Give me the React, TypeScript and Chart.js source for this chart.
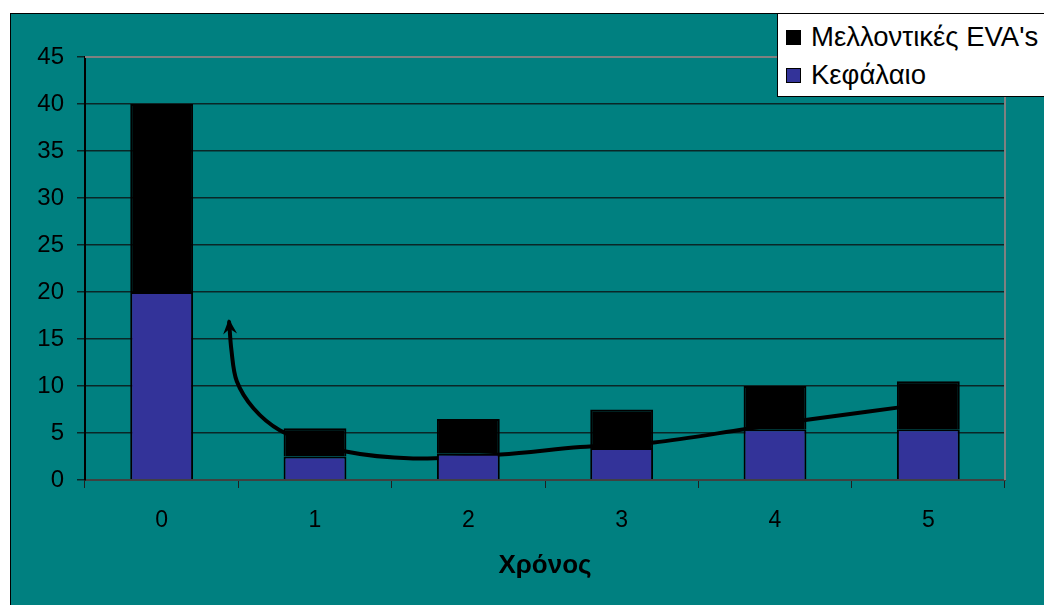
import React, { useEffect, useRef } from "react";
import { Chart, registerables } from "chart.js";

Chart.register(...registerables);

const categories = ["0", "1", "2", "3", "4", "5"];
const capitalValues = [20, 2.5, 2.8, 3.4, 5.4, 5.4];
const futureEvaValues = [20, 3, 3.7, 4.1, 4.6, 5.1];
const capitalLabel = "Κεφάλαιο";
const futureEvaLabel = "Μελλοντικές EVA's";
const xTitle = "Χρόνος";
const yTicks = [0, 5, 10, 15, 20, 25, 30, 35, 40, 45];

// Annotation curve (in data coordinates: category index, value)
const curveX = [4.8, 4.21, 3.8, 3.21, 2.73, 2.21, 1.64, 1.21, 0.77, 0.6, 0.49, 0.455, 0.44];
const curveY = [7.7, 6.4, 5.4, 4.0, 3.5, 2.7, 2.3, 3.0, 5.3, 7.6, 10.5, 13.8, 16.8];

const TEAL = "#008080";
const BLUE = "#333399";
const FONT = "'Liberation Sans', Arial, sans-serif";

type P = { x: number; y: number };
function dist(a: P, b: P) {
  return Math.hypot(a.x - b.x, a.y - b.y);
}

const curvePlugin = {
  id: "curveAnnotation",
  beforeDatasetsDraw(chart: any) {
    const { ctx, scales, chartArea } = chart;
    const xs = scales.x;
    const ys = scales.y;
    const pts: P[] = curveX.map((v, i) => ({ x: xs.getPixelForValue(v), y: ys.getPixelForValue(curveY[i]) }));
    ctx.save();
    // plot border (top & right, gray)
    ctx.strokeStyle = "#808080";
    ctx.lineWidth = 2;
    ctx.beginPath();
    ctx.moveTo(chartArea.left, chartArea.top);
    ctx.lineTo(chartArea.right, chartArea.top);
    ctx.lineTo(chartArea.right, chartArea.bottom);
    ctx.stroke();

    // centripetal Catmull-Rom curve
    ctx.strokeStyle = "#000";
    ctx.lineWidth = 4;
    ctx.lineCap = "round";
    ctx.lineJoin = "round";
    ctx.beginPath();
    ctx.moveTo(pts[0].x, pts[0].y);
    const n = pts.length;
    for (let i = 0; i < n - 1; i++) {
      const p1 = pts[i];
      const p2 = pts[i + 1];
      const p0 = i > 0 ? pts[i - 1] : { x: 2 * p1.x - p2.x, y: 2 * p1.y - p2.y };
      const p3 = i + 2 < n ? pts[i + 2] : { x: 2 * p2.x - p1.x, y: 2 * p2.y - p1.y };
      const d1 = Math.sqrt(dist(p0, p1));
      const d2 = Math.sqrt(dist(p1, p2));
      const d3 = Math.sqrt(dist(p2, p3));
      const c1 = {
        x: (d1 * d1 * p2.x - d2 * d2 * p0.x + (2 * d1 * d1 + 3 * d1 * d2 + d2 * d2) * p1.x) / (3 * d1 * (d1 + d2)),
        y: (d1 * d1 * p2.y - d2 * d2 * p0.y + (2 * d1 * d1 + 3 * d1 * d2 + d2 * d2) * p1.y) / (3 * d1 * (d1 + d2)),
      };
      const c2 = {
        x: (d3 * d3 * p1.x - d2 * d2 * p3.x + (2 * d3 * d3 + 3 * d3 * d2 + d2 * d2) * p2.x) / (3 * d3 * (d3 + d2)),
        y: (d3 * d3 * p1.y - d2 * d2 * p3.y + (2 * d3 * d3 + 3 * d3 * d2 + d2 * d2) * p2.y) / (3 * d3 * (d3 + d2)),
      };
      ctx.bezierCurveTo(c1.x, c1.y, c2.x, c2.y, p2.x, p2.y);
    }
    ctx.stroke();
    // arrowhead
    const last = pts[n - 1];
    const prev = pts[n - 2];
    const ang = Math.atan2(last.y - prev.y, last.x - prev.x);
    const tipLen = 15;
    const w = 7;
    ctx.fillStyle = "#000";
    ctx.beginPath();
    ctx.moveTo(last.x + Math.cos(ang) * 3, last.y + Math.sin(ang) * 3);
    const bx = last.x - Math.cos(ang) * (tipLen - 3);
    const by = last.y - Math.sin(ang) * (tipLen - 3);
    const nx = -Math.sin(ang);
    const ny = Math.cos(ang);
    ctx.lineTo(bx + nx * w, by + ny * w);
    ctx.lineTo(last.x - Math.cos(ang) * tipLen * 0.45, last.y - Math.sin(ang) * tipLen * 0.45);
    ctx.lineTo(bx - nx * w, by - ny * w);
    ctx.closePath();
    ctx.fill();
    ctx.restore();
  },
};

function ChartCanvas() {
  const ref = useRef<HTMLCanvasElement | null>(null);
  useEffect(() => {
    if (!ref.current) return;
    const chart = new Chart(ref.current, {
      type: "bar",
      data: {
        labels: categories,
        datasets: [
          {
            label: capitalLabel,
            data: capitalValues,
            backgroundColor: BLUE,
            borderColor: "#000",
            borderWidth: 2,
            categoryPercentage: 1,
            barPercentage: 0.41,
          },
          {
            label: futureEvaLabel,
            data: futureEvaValues,
            backgroundColor: "#000",
            borderColor: "#000",
            borderWidth: 2,
            categoryPercentage: 1,
            barPercentage: 0.41,
          },
        ],
      },
      options: {
        responsive: false,
        animation: false,
        layout: { padding: { left: 0, right: 39, top: 43, bottom: 0 } },
        plugins: { legend: { display: false }, tooltip: { enabled: false } },
        scales: {
          x: {
            stacked: true,
            grid: {
              offset: true,
              drawOnChartArea: false,
              drawTicks: true,
              tickLength: 8,
              color: "#202020",
            },
            border: { color: "#404040", width: 2 },
            ticks: { color: "#000", font: { family: FONT, size: 23 }, padding: 19 },
            title: {
              display: true,
              text: xTitle,
              color: "#000",
              font: { family: FONT, size: 26, weight: "bold" },
              padding: { top: 0, bottom: 24 },
            },
            afterFit(scale: any) {
              scale.height = 125;
            },
          },
          y: {
            stacked: true,
            min: 0,
            max: 45,
            afterBuildTicks(scale: any) {
              scale.ticks = yTicks.map((v) => ({ value: v }));
            },
            grid: { color: "#0a2626", lineWidth: 1.5, drawTicks: true, tickLength: 8 },
            border: { color: "#000", width: 2 },
            ticks: { color: "#000", font: { family: FONT, size: 24 }, padding: 13 },
            afterFit(scale: any) {
              scale.width = 74;
            },
          },
        },
      },
      plugins: [curvePlugin],
    } as any);
    return () => chart.destroy();
  }, []);
  return <canvas ref={ref} width={1033} height={591} style={{ display: "block", width: 1033, height: 591 }} />;
}

function LegendItem({ color, text, top }: { color: string; text: string; top: number }) {
  return (
    <div style={{ position: "absolute", left: 8, top, display: "flex", alignItems: "center", height: 30 }}>
      <div style={{ width: 13, height: 13, background: color, border: "1px solid #000", marginRight: 10 }} />
      <span style={{ fontFamily: FONT, fontSize: 27.5, color: "#000", whiteSpace: "nowrap" }}>{text}</span>
    </div>
  );
}

export default function App() {
  return (
    <div style={{ position: "absolute", left: 0, top: 0, width: 1044, height: 605, overflow: "hidden", background: "#fff" }}>
      <div
        style={{
          position: "absolute",
          left: 10,
          top: 13,
          width: 1034,
          height: 592,
          background: TEAL,
          borderLeft: "1px solid #000",
          borderTop: "1px solid #000",
          boxSizing: "border-box",
        }}
      >
        <ChartCanvas />
      </div>
      <div
        style={{
          position: "absolute",
          left: 777,
          top: 13,
          width: 300,
          height: 84,
          background: "#fff",
          border: "1px solid #000",
          boxSizing: "border-box",
        }}
      >
        <LegendItem color="#000" text={futureEvaLabel} top={8} />
        <LegendItem color={BLUE} text={capitalLabel} top={46} />
      </div>
    </div>
  );
}
